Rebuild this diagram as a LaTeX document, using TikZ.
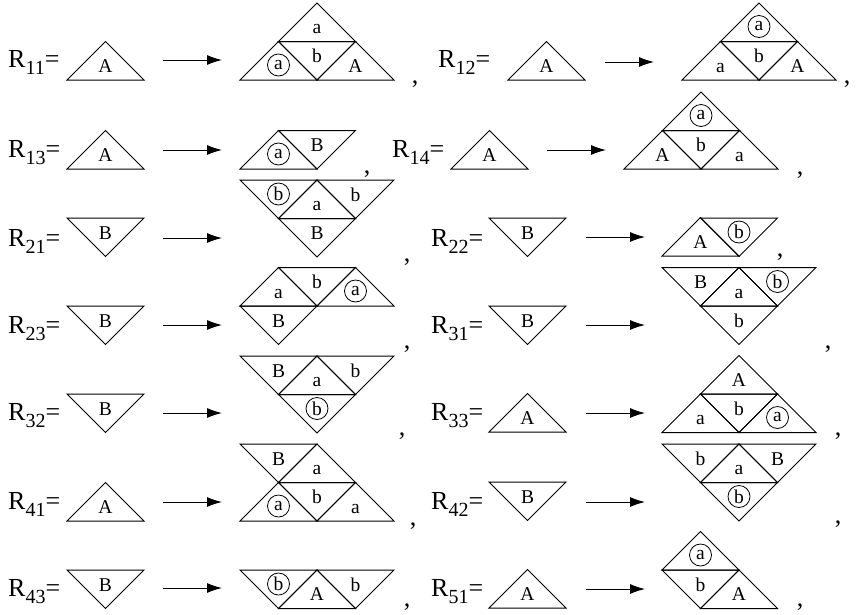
\documentclass[tikz,border=0pt]{standalone}
\usepackage{fontspec}
\setmainfont{Liberation Serif}
\usetikzlibrary{arrows.meta}
\newcounter{lab}
\tikzset{
  tri/.style={line width=1pt,line join=miter},
  lbl/.style={font=\fontsize{19.5}{19.5}\selectfont, inner sep=0pt, anchor=base},
  circ/.style={font=\fontsize{19.5}{19.5}\selectfont, circle, draw, line width=0.8pt, minimum size=22pt, inner sep=0pt, anchor=center},
  arr/.style={line width=1pt,-{Latex[length=15pt,width=10pt]}},
  rlab/.style={anchor=base west,font=\fontsize{26}{26}\selectfont,inner sep=0pt},
  comma/.style={anchor=base, font=\fontsize{26}{26}\selectfont, inner sep=0pt}
}
% up triangle: base-left corner (x,y)
\newcommand\UT[3]{\draw[tri] (#1,#2) -- ++(77,0) -- ++(-38.5,-38.5) -- cycle;
  \stepcounter{lab}\node[lbl] (l\thelab) at (#1+38.5,#2-8) {#3};}
\newcommand\UTc[3]{\draw[tri] (#1,#2) -- ++(77,0) -- ++(-38.5,-38.5) -- cycle;
  \stepcounter{lab}\node[circ] (l\thelab) at (#1+38.5,#2-15) {#3};}
% down triangle: top-left corner (x,y)
\newcommand\DT[3]{\draw[tri] (#1,#2) -- ++(77,0) -- ++(-38.5,38.5) -- cycle;
  \stepcounter{lab}\node[lbl] (l\thelab) at (#1+38.5,#2+21) {#3};}
\newcommand\DTc[3]{\draw[tri] (#1,#2) -- ++(77,0) -- ++(-38.5,38.5) -- cycle;
  \stepcounter{lab}\node[circ] (l\thelab) at (#1+38.5,#2+14) {#3};}
\newcommand\Arr[4]{\coordinate (s#1) at (#2,#4); \coordinate (e#1) at (#3,#4);
  \draw[arr] (s#1) -- (e#1);}
\newcommand\RL[4]{\node[rlab] (r#1) at (#2,#3) {R\raisebox{-7pt}{\fontsize{20}{20}\selectfont #4}=};}
\newcommand\Cm[3]{\node[comma] (c#1) at (#2,#3) {,};}

\begin{document}
\begin{tikzpicture}[x=1pt,y=-1pt]
\useasboundingbox (0,0) rectangle (862,614);

% ---------- R11
\RL{11}{8}{67}{11}
\UT{67}{80}{A}
\Arr{11}{163}{222}{60}
\UT{278.5}{41.5}{a}
\UTc{240}{80}{a}
\DT{278.5}{41.5}{b}
\UT{317}{80}{A}
\Cm{11}{415}{83}

% ---------- R12
\RL{12}{438}{67}{12}
\UT{508}{80}{A}
\Arr{12}{605}{654}{62}
\UTc{720.5}{41.5}{a}
\UT{682}{80}{a}
\DT{720.5}{41.5}{b}
\UT{759}{80}{A}
\Cm{12}{847}{83}

% ---------- R13
\RL{13}{8}{157}{13}
\UT{67}{169}{A}
\Arr{13}{163}{222}{150}
\UTc{240}{169}{a}
\DT{278.5}{130.5}{B}
\Cm{13}{367}{173}

% ---------- R14
\RL{14}{392}{157}{14}
\UT{451}{169}{A}
\Arr{14}{547}{606}{150}
\UTc{662.5}{130.5}{a}
\UT{624}{169}{A}
\DT{662.5}{130.5}{b}
\UT{701}{169}{a}
\Cm{14}{800}{174}

% ---------- R21
\RL{21}{8}{246}{21}
\DT{67}{218}{B}
\Arr{21}{163}{222}{238}
\DTc{240}{180}{b}
\UT{278.5}{218.5}{a}
\DT{317}{180}{b}
\DT{278.5}{218.5}{B}
\Cm{21}{407}{261}

% ---------- R22
\RL{22}{431}{246}{22}
\DT{489}{218}{B}
\Arr{22}{586}{645}{237}
\UT{662}{256}{A}
\DTc{700.5}{218}{b}
\Cm{22}{780}{256}

% ---------- R23
\RL{23}{8}{333}{23}
\DT{67}{306}{B}
\Arr{23}{163}{222}{325}
\UT{240}{306}{a}
\DT{278.5}{267.5}{b}
\UTc{317}{306}{a}
\DT{240}{306}{B}
\Cm{23}{407}{348}

% ---------- R31
\RL{31}{431}{333}{31}
\DT{489}{306}{B}
\Arr{31}{586}{645}{325}
\DT{662}{267.5}{B}
\UT{700.5}{306}{a}
\DTc{739}{267.5}{b}
\DT{700.5}{306}{b}
\Cm{31}{828}{348}

% ---------- R32
\RL{32}{8}{420}{32}
\DT{67}{394}{B}
\Arr{32}{163}{222}{413}
\DT{240}{356}{B}
\UT{278.5}{394.5}{a}
\DT{317}{356}{b}
\DTc{278.5}{394.5}{b}
\Cm{32}{402}{435}

% ---------- R33
\RL{33}{431}{420}{33}
\UT{489}{432}{A}
\Arr{33}{586}{645}{413}
\UT{700.5}{394}{A}
\UT{662}{432.5}{a}
\DT{700.5}{394}{b}
\UTc{739}{432.5}{a}
\Cm{33}{838}{435}

% ---------- R41
\RL{41}{8}{509}{41}
\UT{67}{521}{A}
\Arr{41}{163}{222}{502}
\DT{240}{444}{B}
\UT{278.5}{482.5}{a}
\UTc{240}{521}{a}
\DT{278.5}{482.5}{b}
\UT{317}{521}{a}
\Cm{41}{413}{525}

% ---------- R42
\RL{42}{431}{509}{42}
\DT{489}{482}{B}
\Arr{42}{586}{645}{502}
\DT{662}{444}{b}
\UT{700.5}{482.5}{a}
\DT{739}{444}{B}
\DTc{700.5}{482.5}{b}
\Cm{42}{838}{523}

% ---------- R43
\RL{43}{8}{596}{43}
\DT{67}{570}{B}
\Arr{43}{163}{222}{588}
\DTc{240}{570}{b}
\UT{278.5}{608.5}{A}
\DT{317}{570}{b}
\Cm{43}{407}{606}

% ---------- R51
\RL{51}{431}{596}{51}
\UT{489}{608}{A}
\Arr{51}{586}{645}{589}
\UTc{662}{570}{a}
\DT{662}{570}{b}
\UT{700.5}{608.5}{A}
\Cm{51}{800}{606}

\end{tikzpicture}
\end{document}
